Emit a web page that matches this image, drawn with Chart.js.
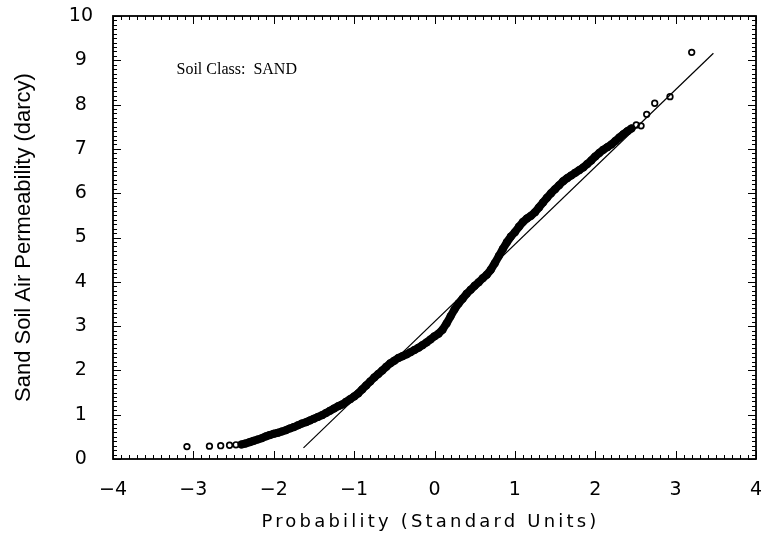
<!DOCTYPE html>
<html>
<head>
<meta charset="utf-8">
<style>
  html, body { margin: 0; padding: 0; background: #fff; }
  #wrap { width: 767px; height: 540px; }
</style>
<script src="https://cdn.jsdelivr.net/npm/chart.js@4.4.1/dist/chart.umd.min.js"></script>
</head>
<body>
<div id="wrap"><canvas id="c" width="767" height="540"></canvas></div>
<script>
// Normal probability plot: sand soil air permeability vs. standard normal quantiles.

// Sparse observations at both tails (drawn as open circles)
const tailX = [-3.08, -2.80, -2.66, -2.55, -2.47, 2.51, 2.57, 2.64, 2.74, 2.93, 3.20];
const tailY = [0.28, 0.29, 0.30, 0.31, 0.32, 7.54, 7.52, 7.78, 8.03, 8.18, 9.18];

// Dense body of the sample (overlapping markers form a solid band)
const bandX = [
  -2.40, -2.35, -2.30, -2.25, -2.20, -2.15, -2.10, -2.05, -2.00, -1.95,
  -1.90, -1.85, -1.80, -1.75, -1.70, -1.65, -1.60, -1.55, -1.50, -1.45,
  -1.40, -1.35, -1.30, -1.25, -1.20, -1.15, -1.10, -1.05, -1.00, -0.95,
  -0.90, -0.85, -0.80, -0.75, -0.70, -0.65, -0.60, -0.55, -0.50, -0.45,
  -0.40, -0.35, -0.30, -0.25, -0.20, -0.15, -0.10, -0.05, 0.00, 0.05,
  0.10, 0.15, 0.20, 0.25, 0.30, 0.35, 0.40, 0.45, 0.50, 0.55,
  0.60, 0.65, 0.70, 0.75, 0.80, 0.85, 0.90, 0.95, 1.00, 1.05,
  1.10, 1.15, 1.20, 1.25, 1.30, 1.35, 1.40, 1.45, 1.50, 1.55,
  1.60, 1.65, 1.70, 1.75, 1.80, 1.85, 1.90, 1.95, 2.00, 2.05,
  2.10, 2.15, 2.20, 2.25, 2.30, 2.35, 2.40, 2.45
];
const bandY = [
  0.33, 0.35, 0.38, 0.41, 0.44, 0.47, 0.51, 0.54, 0.57, 0.59,
  0.62, 0.65, 0.69, 0.72, 0.76, 0.80, 0.83, 0.87, 0.91, 0.95,
  0.99, 1.04, 1.09, 1.14, 1.19, 1.23, 1.29, 1.35, 1.41, 1.48,
  1.57, 1.66, 1.75, 1.84, 1.92, 2.00, 2.08, 2.16, 2.22, 2.28,
  2.32, 2.36, 2.41, 2.46, 2.51, 2.57, 2.63, 2.70, 2.77, 2.83,
  2.92, 3.06, 3.22, 3.38, 3.51, 3.62, 3.73, 3.82, 3.91, 3.99,
  4.08, 4.16, 4.27, 4.42, 4.58, 4.74, 4.89, 5.02, 5.12, 5.24,
  5.35, 5.43, 5.49, 5.57, 5.68, 5.79, 5.90, 6.00, 6.09, 6.18,
  6.27, 6.34, 6.40, 6.46, 6.52, 6.58, 6.66, 6.74, 6.83, 6.91,
  6.98, 7.04, 7.10, 7.18, 7.26, 7.33, 7.40, 7.46
];

// Fitted normal reference line (end points)
const fitX = [-1.63, 3.47];
const fitY = [0.25, 9.16];

// Axis tick labels
const xTickValues = [-4, -3, -2, -1, 0, 1, 2, 3, 4];
const xTickLabels = ['\u22124', '\u22123', '\u22122', '\u22121', '0', '1', '2', '3', '4'];
const yTickValues = [0, 1, 2, 3, 4, 5, 6, 7, 8, 9, 10];
const yTickLabels = ['0', '1', '2', '3', '4', '5', '6', '7', '8', '9', '10'];

const xTitle = 'Probability (Standard Units)';
const yTitle = 'Sand Soil Air Permeability (darcy)';
const noteText = 'Soil Class:  SAND';

const toPoints = (xs, ys) => xs.map((v, i) => ({ x: v, y: ys[i] }));

// Boxed frame with inward major/minor ticks on all four sides, plus the
// in-plot note and the x-axis title.
const framePlugin = {
  id: 'frame',
  afterDraw(chart) {
    const { ctx, chartArea: a, scales: { x, y } } = chart;
    ctx.save();
    ctx.strokeStyle = '#000';
    ctx.lineWidth = 1;
    ctx.beginPath();
    for (let i = -40; i <= 40; i++) {
      const px = Math.round(x.getPixelForValue(i / 10)) + 0.5;
      const len = i % 10 === 0 ? 8 : 4;
      ctx.moveTo(px, a.bottom); ctx.lineTo(px, a.bottom - len);
      ctx.moveTo(px, a.top); ctx.lineTo(px, a.top + len);
    }
    for (let i = 0; i <= 100; i++) {
      const py = Math.round(y.getPixelForValue(i / 10)) + 0.5;
      const len = i % 10 === 0 ? 8 : 4;
      ctx.moveTo(a.left, py); ctx.lineTo(a.left + len, py);
      ctx.moveTo(a.right, py); ctx.lineTo(a.right - len, py);
    }
    ctx.stroke();
    ctx.lineWidth = 1.8;
    ctx.strokeRect(a.left, a.top, a.right - a.left, a.bottom - a.top);

    ctx.fillStyle = '#000';
    ctx.font = '16px "Liberation Serif", "Times New Roman", serif';
    ctx.textAlign = 'left';
    ctx.textBaseline = 'middle';
    ctx.fillText(noteText, x.getPixelForValue(-3.21), y.getPixelForValue(8.78));

    ctx.font = '18px "DejaVu Sans", sans-serif';
    ctx.letterSpacing = '3.2px';
    ctx.textAlign = 'center';
    ctx.fillText(xTitle, (a.left + a.right) / 2 - 4, 522);
    ctx.restore();
  }
};

// Tick labels sit outside the frame; they should not shrink the plot area.
const noLabelOverhang = (s) => {
  s.paddingTop = 0; s.paddingBottom = 0; s.paddingLeft = 0; s.paddingRight = 0;
};

const tickFont = { family: '"DejaVu Sans", sans-serif', size: 19 };

new Chart(document.getElementById('c'), {
  type: 'scatter',
  data: {
    datasets: [
      {
        label: 'fit',
        data: toPoints(fitX, fitY),
        showLine: true,
        borderColor: '#000',
        borderWidth: 1.2,
        pointRadius: 0,
        order: 3
      },
      {
        label: 'body',
        data: toPoints(bandX, bandY),
        showLine: true,
        borderColor: '#000',
        borderWidth: 8,
        borderCapStyle: 'round',
        borderJoinStyle: 'round',
        pointRadius: 4,
        pointBorderWidth: 0,
        pointBackgroundColor: '#000',
        order: 2
      },
      {
        label: 'tails',
        data: toPoints(tailX, tailY),
        showLine: false,
        pointRadius: 2.8,
        pointBorderWidth: 1.7,
        pointBorderColor: '#000',
        pointBackgroundColor: 'rgba(0,0,0,0)',
        order: 1
      }
    ]
  },
  options: {
    responsive: false,
    animation: false,
    events: [],
    layout: { padding: { top: 16, right: 11, left: 0, bottom: 0 } },
    plugins: { legend: { display: false }, tooltip: { enabled: false } },
    scales: {
      x: {
        type: 'linear',
        min: -4, max: 4,
        afterBuildTicks: (s) => { s.ticks = xTickValues.map(v => ({ value: v })); },
        afterFit: (s) => { s.height = 81; noLabelOverhang(s); },
        grid: { display: false, drawTicks: false },
        border: { display: false },
        ticks: {
          color: '#000',
          font: tickFont,
          padding: 20,
          maxRotation: 0,
          callback: (v) => xTickLabels[xTickValues.indexOf(v)]
        },
        title: { display: false }
      },
      y: {
        type: 'linear',
        min: 0, max: 10,
        afterBuildTicks: (s) => { s.ticks = yTickValues.map(v => ({ value: v })); },
        afterFit: (s) => { s.width = 113; noLabelOverhang(s); },
        grid: { display: false, drawTicks: false },
        border: { display: false },
        ticks: {
          color: '#000',
          font: tickFont,
          padding: 20,
          crossAlign: 'center',
          callback: (v) => yTickLabels[yTickValues.indexOf(v)]
        },
        title: {
          display: true,
          text: yTitle,
          color: '#000',
          font: { family: '"Liberation Sans", Arial, sans-serif', size: 22 },
          padding: { top: 11, bottom: 0 }
        }
      }
    }
  },
  plugins: [framePlugin]
});
</script>
</body>
</html>
